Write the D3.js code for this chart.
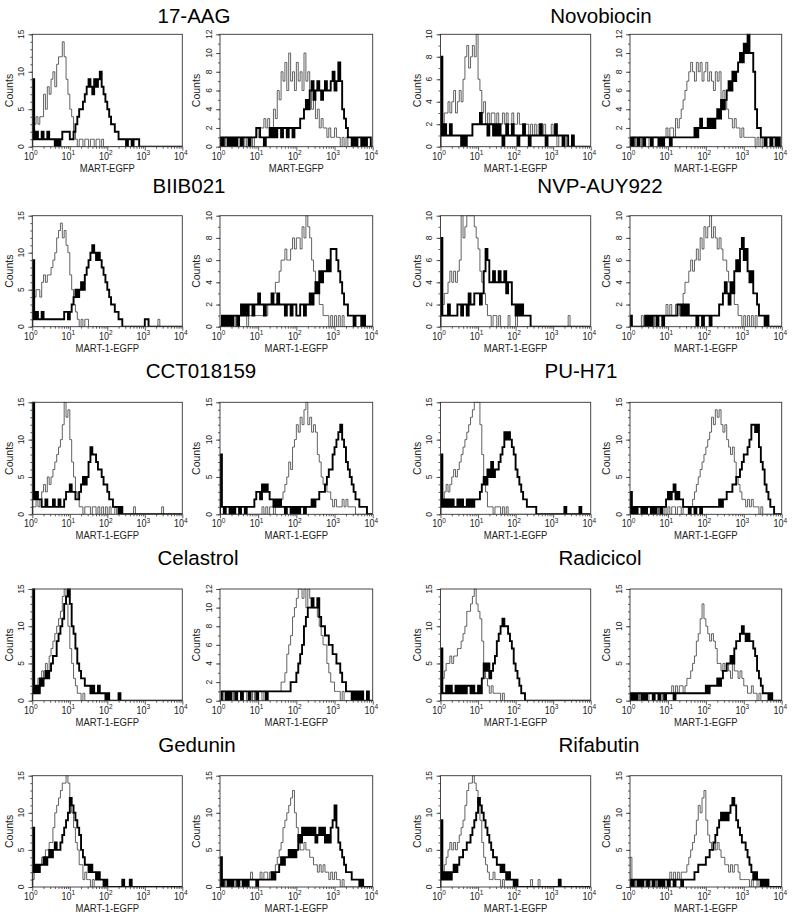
<!DOCTYPE html>
<html><head><meta charset="utf-8">
<script src="https://cdn.jsdelivr.net/npm/d3@7"></script>
<style>body{margin:0;background:#fff}svg{display:block}</style>
</head><body><svg id="c" width="795" height="917"></svg>
<script>
// ---------- DATA (counts per channel bin, bins of 0.05 decade from 10^0 to 10^4) ----------
const titles = ["17-AAG","Novobiocin","BIIB021","NVP-AUY922","CCT018159","PU-H71","Celastrol","Radicicol","Gedunin","Rifabutin"];
const yMaxes = [15,12,10,12, 15,10,10,10, 15,15,15,15, 15,12,15,15, 15,15,15,15];
const xLabels = ["MART-EGFP","MART-EGFP","MART-1-EGFP","MART-1-EGFP"];
const xLabelDefault = "MART-1-EGFP";
const yTicks15 = [0,5,10,15];
const yTicks12 = [0,2,4,6,8,10,12];
const yTicks10 = [0,2,4,6,8,10];
const xTickExps = [0,1,2,3,4];
const binStep = 0.05;

// 17-AAG
const aagL_thin  = [2,3,4,3,4,4,7,5,8,7, 9,10,8,11,12,12,14,12,9,7, 5,4,2,1,0,1,1,0,1,1, 0,1,1,0,1,1,0,1,0,0, 0,0,0,0,0,0,0,0,0,0, 0,0,0,0,0,0,0,0,0,0, 0,0,0,0,0,0,0,0,0,0, 0,0,0,0,0,0,0,0,0,0];
const aagL_thick = [9,1,2,1,1,2,1,1,2,1, 1,1,0,1,0,1,2,2,2,2, 1,1,2,3,4,5,5,6,7,8, 9,8,7,9,8,9,10,8,7,6, 5,4,3,3,2,2,1,1,1,1, 0,1,1,0,1,1,1,0,0,0, 0,0,0,0,0,0,0,0,0,0, 0,0,0,0,0,0,0,0,0,0];
const aagR_thin  = [0,1,0,1,1,0,1,0,1,1, 0,1,1,0,1,1,1,0,1,2, 1,2,2,3,2,3,1,2,4,3, 6,5,8,7,9,6,10,7,8,6, 9,7,8,6,10,7,8,6,4,5, 3,4,2,3,2,2,1,2,1,1, 2,1,1,0,1,0,1,0,0,0, 0,0,0,0,0,0,0,0,0,0];
const aagR_thick = [1,0,1,1,0,1,0,1,0,1, 1,0,1,1,1,0,1,1,1,2, 2,1,1,0,1,1,2,1,2,1, 2,2,1,2,2,1,2,2,1,2, 2,2,3,3,4,5,4,6,7,5, 6,7,6,5,6,7,6,6,7,8, 6,7,9,7,4,3,2,1,1,0, 1,0,1,1,0,1,0,1,1,0];
// Novobiocin
const novL_thin  = [3,2,3,3,4,3,4,5,3,4, 5,4,6,8,9,7,8,9,8,10, 6,5,3,4,2,3,2,3,3,2, 3,2,2,3,2,3,2,2,3,2, 2,3,2,2,1,2,2,1,2,1, 2,1,2,1,1,2,1,1,1,2, 1,1,0,1,1,0,1,0,0,0, 1,0,0,0,0,0,0,0,0,0];
const novL_thick = [8,1,2,1,1,2,1,1,1,1, 1,0,1,0,1,1,1,2,2,2, 2,3,2,2,2,1,2,2,1,2, 1,2,1,0,1,2,1,1,2,1, 1,0,1,1,2,1,1,0,1,1, 1,1,1,2,1,1,0,1,1,1, 1,2,1,1,1,0,1,1,0,0, 1,0,0,0,0,0,0,0,0,0];
const novR_thin  = [0,1,1,0,1,1,0,1,1,1, 0,1,1,1,1,0,1,1,1,2, 1,2,2,1,3,2,3,4,5,6, 7,8,9,8,7,9,8,9,7,8, 9,7,8,7,6,8,7,8,5,6, 5,4,3,3,2,3,2,2,1,2, 1,1,1,1,1,1,0,1,0,1, 0,1,0,0,1,0,1,0,0,0];
const novR_thick = [1,0,1,1,0,1,1,0,1,1, 1,0,1,1,1,0,1,0,1,1, 1,0,1,1,1,1,1,1,1,1, 1,1,1,1,2,1,2,3,2,2, 2,3,2,3,2,3,4,3,5,4, 5,6,7,6,8,7,8,9,10,9, 11,10,12,10,10,8,4,2,2,1, 1,0,1,1,0,1,1,0,1,0];
// BIIB021
const biiL_thin  = [3,4,5,5,4,6,7,6,7,7, 8,9,10,12,13,14,12,13,11,10, 7,5,3,2,1,0,1,0,1,1, 0,0,0,0,0,0,0,0,0,0, 0,0,0,0,0,0,0,0,0,0, 0,0,0,0,0,0,0,0,0,0, 0,0,0,0,0,0,0,1,0,0, 0,0,0,0,0,0,0,0,0,0];
const biiL_thick = [9,1,2,1,1,2,1,1,1,1, 1,1,1,1,1,1,1,2,2,1, 2,3,4,5,4,5,6,5,7,8, 9,10,11,10,9,10,9,8,7,6, 5,4,3,3,2,2,1,1,0,0, 0,0,0,0,0,0,0,0,0,0, 1,1,0,0,0,0,0,0,0,0, 0,0,0,0,0,0,0,0,0,0];
const biiR_thin  = [0,1,0,1,1,0,1,1,0,1, 1,1,1,1,0,1,1,1,1,1, 1,1,1,1,1,2,2,3,3,4, 4,5,6,6,7,6,6,7,8,7, 8,8,7,9,8,10,9,8,6,5, 4,3,2,2,1,1,1,0,1,0, 1,0,1,0,1,0,0,0,0,0, 0,0,0,0,0,0,0,0,0,0];
const biiR_thick = [0,1,0,1,0,1,0,1,1,0, 1,2,1,2,1,2,2,1,2,2, 3,2,2,1,2,2,2,3,2,2, 3,2,2,2,1,2,2,1,2,2, 1,1,2,2,1,2,2,3,2,3, 4,3,5,4,5,5,6,5,7,7, 7,6,5,4,3,2,2,1,1,1, 0,1,1,1,0,1,0,0,0,0];
// NVP-AUY922
const nvpL_thin  = [1,2,3,3,4,5,4,5,4,5, 6,10,8,9,10,10,10,10,9,8, 7,5,4,3,2,1,1,0,1,1, 0,1,0,0,0,0,1,0,0,0, 1,0,0,0,0,0,0,0,0,0, 0,0,0,0,0,0,0,0,0,0, 0,0,0,0,0,0,0,0,1,0, 0,0,0,0,0,0,0,0,0,0];
const nvpL_thick = [8,1,1,1,2,1,1,1,1,2, 2,1,2,2,1,3,2,2,3,3, 3,2,3,5,7,6,4,4,5,4, 4,5,4,4,5,3,4,4,2,2, 1,2,1,2,1,1,1,1,0,0, 0,0,0,0,0,0,0,0,0,0, 0,0,0,0,0,0,0,0,0,0, 0,0,0,0,0,0,0,0,0,0];
const nvpR_thin  = [0,0,0,0,0,0,1,0,1,1, 0,1,1,0,1,1,1,1,1,2, 1,2,1,1,2,2,1,2,3,4, 4,5,6,5,6,7,6,8,7,9, 8,9,10,8,9,8,7,8,7,6, 6,5,4,3,3,2,2,1,1,0, 1,0,1,0,1,0,1,0,0,0, 0,0,0,0,0,0,0,0,0,0];
const nvpR_thick = [1,0,0,0,0,0,0,0,1,0, 1,0,1,1,0,1,1,0,1,1, 1,1,1,1,1,2,2,1,2,1, 2,1,1,1,1,0,1,1,0,1, 1,1,0,1,1,1,1,2,2,3, 4,3,2,4,3,5,6,5,7,8, 6,7,5,4,5,3,3,2,1,1, 1,0,1,0,0,0,0,0,0,0];
// CCT018159
const cctL_thin  = [1,1,2,1,2,3,4,3,5,4, 5,6,7,8,9,10,12,15,13,14, 10,7,5,3,2,1,1,0,1,1, 1,0,1,1,0,1,0,1,0,1, 0,1,0,0,1,0,0,0,0,0, 0,0,0,0,1,0,0,0,0,0, 0,0,0,0,0,0,0,0,0,1, 0,0,0,0,0,0,0,0,0,0];
const cctL_thick = [15,2,3,2,2,1,1,2,1,1, 1,2,1,1,2,1,1,2,3,3, 4,3,3,2,2,3,4,5,4,5, 7,9,8,8,7,6,6,5,4,4, 3,2,2,1,1,1,0,1,0,0, 0,0,0,0,0,0,0,0,0,0, 0,0,0,0,0,0,0,0,0,0, 0,0,0,0,0,0,0,0,0,0];
const cctR_thin  = [0,0,0,0,0,0,0,0,0,0, 0,0,0,0,0,0,0,0,0,0, 0,0,1,0,1,0,1,1,0,1, 1,1,2,3,4,5,7,6,9,10, 12,11,13,12,14,15,12,13,11,12, 11,8,7,5,4,4,3,3,2,1, 2,1,1,1,2,1,2,1,1,1, 1,0,0,0,0,0,0,0,0,0];
const cctR_thick = [8,1,0,1,1,0,1,0,1,1, 0,1,1,0,1,1,1,1,2,3, 3,2,4,3,4,3,2,2,1,2, 1,2,1,1,0,1,1,0,1,0, 1,0,1,1,0,1,1,1,2,1, 2,2,3,3,3,4,5,6,6,8, 9,10,11,12,10,9,7,6,5,4, 3,2,2,1,1,1,1,0,0,0];
// PU-H71
const puL_thin   = [2,2,3,4,3,4,5,6,5,6, 7,8,9,10,11,12,13,14,15,15, 15,12,8,5,3,1,1,1,0,1, 1,1,0,1,0,1,0,0,0,0, 0,0,0,0,0,0,0,0,0,0, 0,0,0,0,0,0,0,0,0,0, 0,0,0,0,0,0,0,0,0,0, 0,0,0,0,0,0,0,0,0,0];
const puL_thick  = [8,1,2,1,2,1,2,1,1,2, 1,2,1,1,2,1,2,1,2,2, 2,3,4,5,4,6,5,7,5,6, 6,7,8,9,11,10,11,10,9,8, 6,5,4,3,2,2,1,1,1,1, 1,0,0,0,0,0,0,0,0,0, 0,0,0,0,0,0,1,0,0,0, 0,0,0,0,1,0,0,0,0,0];
const puR_thin   = [1,0,0,0,0,0,0,0,1,0, 0,0,0,0,1,0,0,0,1,0, 1,0,1,1,0,1,1,0,1,1, 1,1,1,2,3,4,5,6,7,8, 9,10,11,13,12,14,13,14,12,11, 12,10,9,8,9,7,5,4,3,2, 2,1,2,1,2,1,1,1,0,1, 0,0,0,0,0,0,0,0,0,0];
const puR_thick  = [3,0,1,0,1,1,0,1,0,1, 1,0,1,0,1,1,0,1,1,2, 3,2,3,4,2,3,2,2,1,1, 1,0,1,1,0,1,1,0,1,1, 1,1,1,1,1,1,1,2,1,2, 2,3,3,3,4,4,5,5,6,7, 8,8,9,10,12,12,11,12,9,7, 6,4,3,2,1,1,0,0,0,0];
// Celastrol
const celL_thin  = [1,1,2,3,2,4,3,5,4,6, 7,8,9,10,11,12,14,15,13,10, 7,5,3,2,1,1,0,1,0,0, 0,0,0,0,0,0,0,0,0,0, 0,0,0,0,0,0,0,0,0,0, 0,0,0,0,0,0,0,0,0,0, 0,0,0,0,0,0,0,0,0,0, 0,0,0,0,0,0,0,0,0,0];
const celL_thick = [15,1,2,1,3,2,3,4,3,4, 5,6,6,8,9,10,11,13,14,15, 13,10,9,7,5,4,3,3,2,2, 2,1,2,1,1,2,1,1,1,0, 1,0,0,0,0,0,1,0,0,0, 0,0,0,0,0,0,0,0,0,0, 0,0,0,0,0,0,0,0,0,0, 0,0,0,0,0,0,0,0,0,0];
const celR_thin  = [1,0,1,0,1,1,0,1,0,1, 1,0,1,1,0,1,1,0,1,1, 1,1,0,1,1,1,1,1,1,1, 1,1,2,2,3,5,6,7,9,10, 11,12,12,11,12,10,12,11,10,10, 10,9,8,7,6,6,4,3,2,2, 1,1,1,0,1,0,0,0,0,0, 0,0,0,0,0,0,0,0,0,0];
const celR_thick = [0,1,1,0,1,0,1,1,0,1, 1,0,1,1,1,0,1,1,1,0, 1,1,1,1,0,1,1,1,1,1, 1,1,1,1,1,1,1,2,2,2, 3,4,5,6,8,9,10,10,11,10, 10,11,9,8,8,7,7,6,6,5, 5,4,4,3,2,2,1,1,1,0, 1,0,1,0,1,0,0,1,0,0];
// Radicicol
const radL_thin  = [1,3,4,5,5,6,5,6,6,7, 7,8,9,10,12,12,13,14,15,13, 12,11,8,5,3,2,1,2,1,1, 1,1,0,1,0,0,0,0,0,0, 0,0,0,0,0,0,0,0,0,0, 0,0,0,0,0,0,0,0,0,0, 0,0,0,0,0,0,0,0,0,0, 0,0,0,0,0,0,0,0,0,0];
const radL_thick = [7,1,1,2,1,2,1,1,2,1, 2,1,2,1,2,2,1,2,1,1, 2,1,3,5,4,5,3,4,5,6, 8,9,10,11,10,10,9,8,7,5, 4,3,2,1,1,0,0,0,0,0, 0,0,0,0,0,0,0,0,0,0, 0,0,0,0,0,0,0,0,0,0, 0,0,0,0,0,0,0,0,0,0];
const radR_thin  = [0,1,0,1,0,1,1,0,1,0, 1,1,0,1,1,1,0,1,1,1, 1,1,2,1,2,1,2,2,1,2, 3,3,4,5,6,8,9,11,13,11, 10,9,8,9,8,7,5,5,4,5, 4,5,4,3,5,4,4,3,4,3, 2,2,1,1,2,1,1,0,1,0, 0,0,0,0,0,0,0,0,0,0];
const radR_thick = [1,0,1,0,1,1,0,1,0,1, 1,1,0,1,1,0,1,1,0,1, 1,1,1,0,1,1,1,1,1,1, 1,1,1,1,1,1,1,1,1,1, 2,1,2,2,2,2,3,2,3,4, 4,5,5,6,5,7,8,8,9,10, 9,8,9,8,8,7,6,4,3,2, 1,1,1,0,1,0,0,0,0,0];
// Gedunin
const gedL_thin  = [1,2,3,2,3,4,4,5,5,6, 6,8,10,11,12,13,14,14,15,14, 11,10,8,6,5,3,3,1,2,1, 1,0,1,0,0,0,0,0,0,0, 0,0,0,0,0,0,0,0,0,0, 0,0,0,0,0,0,0,0,0,0, 0,0,0,0,0,0,0,0,0,0, 0,0,0,0,0,0,0,0,0,0];
const gedL_thick = [8,2,3,2,3,3,4,3,4,5, 4,5,6,5,5,6,7,8,9,10, 12,11,10,9,8,7,5,4,3,3, 2,3,2,2,1,2,1,1,0,1, 0,0,0,0,0,0,0,0,1,0, 0,0,1,0,0,0,0,0,0,0, 0,0,0,0,0,0,0,0,0,0, 0,0,0,0,0,0,0,0,0,0];
const gedR_thin  = [1,0,1,0,1,0,1,1,0,1, 1,0,1,1,1,1,2,1,1,1, 1,2,1,2,2,1,2,2,2,3, 4,5,6,8,9,10,11,12,13,10, 8,6,5,5,6,5,5,4,4,3, 3,2,3,2,3,2,2,1,2,1, 2,1,1,0,1,0,0,0,0,0, 0,0,0,0,0,0,0,0,0,0];
const gedR_thick = [4,0,1,1,0,1,0,1,1,0, 1,1,0,1,0,1,1,1,1,0, 1,1,1,1,1,1,1,2,1,2, 2,3,4,3,4,4,5,4,5,4, 5,7,6,8,7,8,7,8,7,8, 6,7,8,7,8,6,7,6,8,9, 11,8,6,5,4,3,2,2,2,1, 1,1,1,0,1,0,0,0,0,0];
// Rifabutin
const rifL_thin  = [1,2,3,4,5,6,5,6,5,6, 7,8,9,11,13,14,14,15,14,13, 11,9,6,4,3,2,1,1,2,1, 1,1,0,1,0,0,0,0,0,0, 0,0,0,0,0,0,0,0,1,0, 0,0,1,0,0,0,0,0,0,0, 0,0,0,0,0,0,0,0,0,0, 0,0,0,0,0,0,0,0,0,0];
const rifL_thick = [9,1,2,1,2,1,2,3,2,3, 4,4,5,5,6,6,7,8,9,10, 12,11,10,9,8,7,6,5,4,4, 3,3,2,3,2,1,2,1,1,0, 1,0,0,0,0,0,0,0,0,0, 0,0,0,0,0,0,0,0,0,0, 0,0,0,1,0,0,0,0,0,0, 0,0,0,0,0,0,0,0,0,0];
const rifR_thin  = [4,0,1,0,1,1,0,1,0,1, 1,0,1,1,0,1,1,1,0,1, 1,2,1,2,1,2,1,2,2,2, 3,4,5,6,7,9,11,10,12,13, 9,7,6,5,6,5,6,5,4,4, 3,3,2,3,2,3,3,2,1,1, 1,1,1,0,1,0,0,1,0,0, 0,0,0,0,0,0,0,0,0,0];
const rifR_thick = [1,0,1,1,0,1,0,1,1,0, 1,1,0,1,1,0,1,0,1,1, 0,1,1,0,1,1,1,0,1,1, 1,1,1,1,2,2,3,3,3,3, 4,4,5,5,6,7,8,9,10,9, 10,9,10,11,12,11,9,8,7,6, 6,5,4,3,2,1,2,1,1,0, 1,0,1,0,0,0,0,0,0,0];

// panel order: row by row, 4 panels per row (left pair = first title, right pair = second title)
const thinSeries  = [aagL_thin, aagR_thin, novL_thin, novR_thin, biiL_thin, biiR_thin, nvpL_thin, nvpR_thin,
                     cctL_thin, cctR_thin, puL_thin, puR_thin, celL_thin, celR_thin, radL_thin, radR_thin,
                     gedL_thin, gedR_thin, rifL_thin, rifR_thin];
const thickSeries = [aagL_thick, aagR_thick, novL_thick, novR_thick, biiL_thick, biiR_thick, nvpL_thick, nvpR_thick,
                     cctL_thick, cctR_thick, puL_thick, puR_thick, celL_thick, celR_thick, radL_thick, radR_thick,
                     gedL_thick, gedR_thick, rifL_thick, rifR_thick];

// ---------- LAYOUT ----------
const colX = [[32.3,182.3],[220,372.7],[440.5,590.7],[630,781.7]];
const rowTop = [34.3, 215.7, 402.3, 589, 775.7];
const rowH = [112.4, 111, 112, 111.7, 111.3];
const titleBase = [22.7, 193.3, 378.3, 565, 751.7];
const titleXL = [194, 189, 201, 198, 197];
const titleXR = [601, 600, 581, 600, 599];
const FONT = "'Liberation Sans', Arial, Helvetica, sans-serif";

const svg = d3.select("#c");
svg.append("rect").attr("width",795).attr("height",917).attr("fill","#fff");

// titles
for (let r = 0; r < 5; r++) {
  [[titles[2*r], titleXL[r]], [titles[2*r+1], titleXR[r]]].forEach(([t, tx]) => {
    svg.append("text").attr("x", tx).attr("y", titleBase[r])
      .attr("text-anchor","middle").attr("font-family",FONT).attr("font-size",20.5)
      .attr("fill","#000").text(t);
  });
}

for (let p = 0; p < 20; p++) {
  const r = Math.floor(p/4), c = p % 4;
  const [x0, x1] = colX[c];
  const y0 = rowTop[r], y1 = rowTop[r] + rowH[r];
  const ymax = yMaxes[p];
  const x = d3.scaleLog().domain([1, 1e4]).range([x0, x1]);
  const y = d3.scaleLinear().domain([0, ymax]).range([y1, y0]);
  const g = svg.append("g");

  const cid = "clip" + p;
  svg.append("clipPath").attr("id", cid).append("rect")
    .attr("x", x0).attr("y", y0 - 0.5).attr("width", x1 - x0).attr("height", y1 - y0 + 0.5);

  const line = d3.line().x(d => x(d[0])).y(d => y(d[1])).curve(d3.curveStepAfter);
  const toPts = vals => [[1, 0]].concat(vals.map((v, i) => [Math.pow(10, i * binStep), v]))
                                 .concat([[1e4, vals[vals.length - 1]]]);

  g.append("path").attr("d", line(toPts(thinSeries[p]))).attr("fill","none")
    .attr("stroke","#3a3a3a").attr("stroke-width",0.8).attr("clip-path",`url(#${cid})`);
  g.append("path").attr("d", line(toPts(thickSeries[p]))).attr("fill","none")
    .attr("stroke","#000").attr("stroke-width",1.9).attr("stroke-linejoin","miter")
    .attr("clip-path",`url(#${cid})`);

  // frame
  g.append("rect").attr("x", x0).attr("y", y0).attr("width", x1 - x0).attr("height", y1 - y0)
    .attr("fill","none").attr("stroke","#333").attr("stroke-width",0.9);

  // y axis ticks
  const majors = ymax === 15 ? yTicks15 : (ymax === 12 ? yTicks12 : yTicks10);
  const minors = d3.range(0, ymax + 1);
  const ya = g.append("g").attr("transform", `translate(${x0},0)`)
    .call(d3.axisLeft(y).tickValues(minors).tickSize(2).tickFormat(""));
  ya.select(".domain").remove();
  ya.selectAll("line").attr("stroke","#333").attr("stroke-width",0.8);
  const yb = g.append("g").attr("transform", `translate(${x0},0)`)
    .call(d3.axisLeft(y).tickValues(majors).tickSize(4).tickFormat(""));
  yb.select(".domain").remove();
  yb.selectAll("line").attr("stroke","#333").attr("stroke-width",0.8);
  majors.forEach(v => {
    g.append("text").attr("transform", `translate(${x0 - 11.5},${y(v)}) rotate(-90)`)
      .attr("text-anchor","middle").attr("dy","0.36em")
      .attr("font-family",FONT).attr("font-size",8.5).attr("fill","#222").text(v);
  });
  g.append("text").attr("transform", `translate(${x0 - 23.5},${(y0 + y1) / 2}) rotate(-90)`)
    .attr("text-anchor","middle").attr("dy","0.36em")
    .attr("font-family",FONT).attr("font-size",10.5).attr("fill","#222").text("Counts");

  // x axis ticks (log)
  const xMinor = [];
  for (let e = 0; e < 4; e++) for (let m = 2; m <= 9; m++) xMinor.push(m * Math.pow(10, e));
  const xa = g.append("g").attr("transform", `translate(0,${y1})`)
    .call(d3.axisBottom(x).tickValues(xMinor).tickSize(2).tickFormat(""));
  xa.select(".domain").remove();
  xa.selectAll("line").attr("stroke","#333").attr("stroke-width",0.8);
  const xb = g.append("g").attr("transform", `translate(0,${y1})`)
    .call(d3.axisBottom(x).tickValues(xTickExps.map(e => Math.pow(10, e))).tickSize(4).tickFormat(""));
  xb.select(".domain").remove();
  xb.selectAll("line").attr("stroke","#333").attr("stroke-width",0.8);
  xTickExps.forEach(e => {
    const t = g.append("text")
      .attr("transform", `translate(${x(Math.pow(10, e)) - 1.5},${y1 + 13}) scale(1,1.15)`)
      .attr("text-anchor","middle").attr("font-family",FONT).attr("font-size",9).attr("fill","#222");
    t.append("tspan").text("10");
    t.append("tspan").attr("font-size",6.5).attr("dy",-4).text(e);
  });
  const xl = (r === 0) ? xLabels[c] : xLabelDefault;
  g.append("text").attr("transform", `translate(${(x0 + x1) / 2},${y1 + 25}) scale(1,1.1)`)
    .attr("text-anchor","middle").attr("font-family",FONT).attr("font-size",9.5).attr("fill","#222").text(xl);
}
</script></body></html>
